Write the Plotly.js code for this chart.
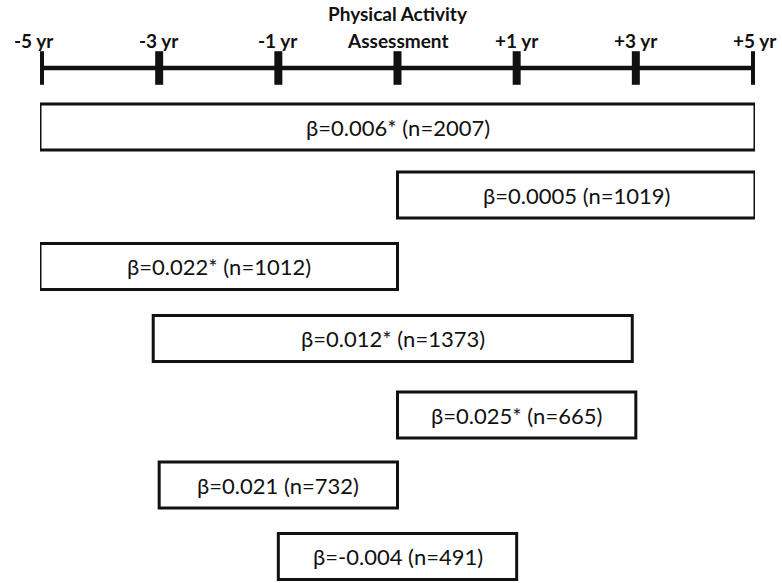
<!DOCTYPE html>
<html><head><meta charset="utf-8">
<script src="https://cdn.plot.ly/plotly-3.0.1.min.js"></script>
<style>html,body{margin:0;padding:0;background:#fff}#chart{width:782px;height:583px}</style>
</head><body><div id="chart"></div>
<script>
// Timeline categories (evenly spaced positions)
const tickLabels = ["-5 yr", "-3 yr", "-1 yr", "Physical Activity<br>Assessment", "+1 yr", "+3 yr", "+5 yr"];
const tickPos = [0, 1, 2, 3, 4, 5, 6];
// Analysis windows (start/end on timeline position scale)
const betas = ["0.006*", "0.0005", "0.022*", "0.012*", "0.025*", "0.021", "-0.004"];
const ns = [2007, 1019, 1012, 1373, 665, 732, 491];
const startPos = [0, 3, 0, 0.95, 3, 1, 2];
const endPos = [6, 6, 3, 4.97, 5, 3, 4];

// layout constants (pixel-like vertical scale)
const lineY = 68, boxH = 46;
const rowCenters = [127, 195, 266.5, 338.5, 415, 485, 556.5];
const fontFam = "Lato, 'Open Sans', sans-serif";

const shapes = [];
const annotations = [];
betas.forEach((b, i) => {
  const yc = rowCenters[i];
  shapes.push({type: "rect", xref: "x", yref: "y", x0: startPos[i], x1: endPos[i],
    y0: yc - boxH / 2, y1: yc + boxH / 2, line: {color: "#111", width: 3}, fillcolor: "rgba(0,0,0,0)"});
  annotations.push({x: (startPos[i] + endPos[i]) / 2, y: yc, xref: "x", yref: "y",
    text: "β=" + b + " (n=" + ns[i] + ")", showarrow: false,
    font: {family: fontFam, size: 22, color: "#111"}, xanchor: "center", yanchor: "middle"});
});
tickPos.forEach((p, i) => {
  const lines = tickLabels[i].split("<br>").reverse();
  lines.forEach((ln, k) => {
    annotations.push({x: p, y: lineY - 14 - k * 27, xref: "x", yref: "y", text: "<b>" + ln + "</b>",
      showarrow: false, xanchor: "center", yanchor: "bottom", xshift: i === 0 ? -6 : 0,
      font: {family: fontFam, size: 19, color: "#111"}});
  });
});

const traces = [
  {x: [tickPos[0], tickPos[tickPos.length - 1]], y: [lineY, lineY], mode: "lines",
   line: {color: "#111", width: 4.5}, hoverinfo: "skip", showlegend: false},
  {x: tickPos, y: tickPos.map(() => lineY), mode: "markers",
   marker: {symbol: "line-ns", size: 24, line: {color: "#111", width: 8}},
   hoverinfo: "skip", showlegend: false}
];

const layout = {
  width: 782, height: 583,
  margin: {l: 40, r: 27, t: 0, b: 0, pad: 0},
  paper_bgcolor: "#fff", plot_bgcolor: "#fff",
  xaxis: {range: [0, 6], visible: false, fixedrange: true},
  yaxis: {range: [583, 0], visible: false, fixedrange: true},
  shapes: shapes, annotations: annotations, showlegend: false
};
Plotly.newPlot("chart", traces, layout, {displayModeBar: false, staticPlot: true});
</script></body></html>
